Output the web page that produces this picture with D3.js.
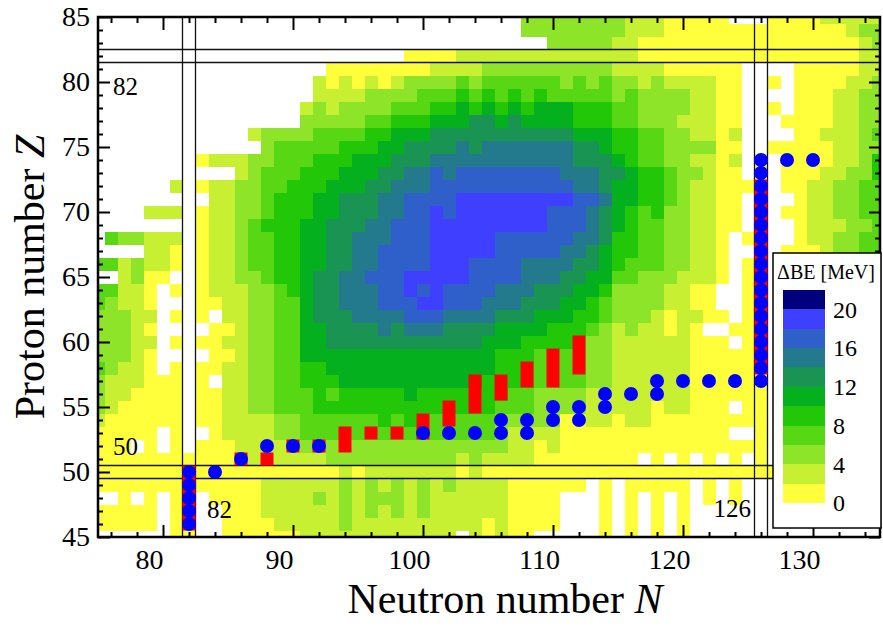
<!DOCTYPE html>
<html>
<head>
<meta charset="utf-8">
<script src="https://cdn.jsdelivr.net/npm/d3@7"></script>
<style>
  body { margin: 0; background: #fff; }
  svg text { font-family: "Liberation Serif", "DejaVu Serif", serif !important; fill: #000; }
</style>
</head>
<body>
<svg id="chart" width="883" height="626"></svg>
<script>
// ---- data ----
// one string per proton number Z (85 at top, 45 at bottom), one char per N = 75..135
// char = colour band (0 -> 0-2 MeV, 1 -> 2-4 MeV, ... a -> 20-22 MeV), "." = no value
var zRows = [
  "................" + "..............." + "..2222222211100" + "000...000011111",
  "................" + "..............." + "..2222222211100" + "000000000000122",
  "................" + "..............." + "....22222110000" + "000000000000012",
  "................" + "........0000111" + "111111111110000" + "000000000000011",
  "................" + "..0000000011112" + "222222222111100" + "0000....0000011",
  "................" + ".10101012222323" + "333332323221211" + "1100..0.0000112",
  "................" + ".11112222333434" + "343433333232222" + "1100....0001122",
  "................" + "121222233344545" + "454555444332222" + "1100..0.0001122",
  "................" + "222223344455566" + "565555444332221" + "1100...00001122",
  "............1222" + "233334455566666" + "666666555443322" + "1101....0011123",
  ".............233" + "333444556666767" + "777777665443322" + "2200..000001122",
  "........01112233" + "344455566677777" + "777777666543322" + "1101.0.00001124",
  "...........12333" + "444555667787888" + "888887776654432" + "2100.0.00011224",
  "......1.01122334" + "445556677788888" + "888888776554432" + "110000.00112233",
  ".........1122344" + "455666778888999" + "999999887554432" + "1100.0..0112233",
  "....111.01122344" + "455666778898999" + "999988876543422" + "1100.0.00112233",
  "........01123444" + "556667788899999" + "999988876543322" + "1100.0..0111223",
  ".322111.01123344" + "556677788899999" + "888888776443322" + "110.00..0112233",
  "....110.01123344" + "556677888899999" + "888887765443322" + "110..0.00012233",
  "3312110.01123344" + "556677888899988" + "887777665433322" + "110.00.........",
  "..1200..01122344" + "566778889999988" + "887776655332221" + "110.00.........",
  "33110.0.01112234" + "566777889898888" + "777666554222211" + "00..00.........",
  "32110...00112233" + "566777888998887" + "776665543222211" + "00..00.........",
  "22211.0.0.112233" + "566677778887777" + "666555443222101" + "100.00.........",
  "22210....0012233" + "556666767776666" + "555544432121101" + "0..000.........",
  "22211.0.00112233" + "556666666666665" + "554444322111111" + "000.00.........",
  "22210....0012233" + "555555555555555" + "444333322111111" + "000000.........",
  "32110.0.00112233" + "445555555555555" + "444333322111111" + "000000.........",
  "2111000.0.112233" + "444555555555554" + "444333322111111" + "000000.........",
  "2110000.00112233" + "343444445444444" + "433222211111111" + "000000.........",
  "2100000.00112233" + "344444444444444" + "333222211111011" + "000.00.........",
  "1000000.00111122" + "333333434333333" + "222220011011000" + "000000.........",
  "00000.0..0111122" + "333333333333333" + "211110000000000" + "000..0.........",
  "000.0.0.00011111" + "222222222222222" + "211010000000000" + "000000.........",
  "0000000000011111" + "112222222222121" + "11100000000.0.0" + ".0.0.0.........",
  "0000000000000000" + "000101111111010" + "000000000000000" + "0000000........",
  "0000000000000111" + "111212121212111" + "1000000.0.00000" + ".0.0...........",
  "..0.0.00.0000111" + "121212221211111" + "10000...0.0.0.0" + ".0.0...........",
  "00000.00..000111" + "111212121211111" + "10000...0.0.0.0" + "...............",
  "00000.00..000011" + "111211111111110" + "10000...0.0.0.0" + "...............",
  "......00..000000" + "111111111111.10" + "100.....0.0.0.0" + "..............."
];
var zTop = 85;
var nFirst = 75;

var bandEdges = [2, 4, 6, 8, 10, 12, 14, 16, 18, 20];
var bandColors = ["#ffff3c", "#c8f032", "#8ee428", "#58d814", "#22c808", "#04b01e",
                  "#1a9452", "#237a8c", "#2f5fc8", "#3f3fff", "#00007f"];
var legendTicks = [0, 4, 8, 12, 16, 20];

// red bars: N, lowest Z, highest Z
var redN   = [82, 86, 88, 90, 92, 94, 96, 98, 100, 102, 104, 106, 108, 110, 112, 126];
var redZlo = [46, 51, 51, 52, 52, 52, 53, 53, 53, 54, 55, 56, 57, 57, 58, 58];
var redZhi = [50, 51, 51, 52, 52, 53, 53, 53, 54, 55, 57, 57, 58, 59, 60, 72];

// blue points [N, Z]
var bluePts = [
  [82, 46], [82, 47], [82, 48], [82, 49], [82, 50], [84, 50], [86, 51], [88, 52], [90, 52], [92, 52],
  [100, 53], [102, 53], [104, 53], [106, 53], [106, 54], [108, 53], [108, 54], [110, 54], [110, 55],
  [112, 54], [112, 55], [114, 55], [114, 56], [116, 56], [118, 56], [118, 57], [120, 57], [122, 57], [124, 57],
  [126, 57], [126, 58], [126, 59], [126, 60], [126, 61], [126, 62], [126, 63], [126, 64], [126, 65],
  [126, 66], [126, 67], [126, 68], [126, 69], [126, 70], [126, 71], [126, 72], [126, 73], [126, 74],
  [128, 74], [130, 74]
];

var magicN = [82, 126];
var magicZ = [50, 82];
var xMajor = [80, 90, 100, 110, 120, 130];
var yMajor = [45, 50, 55, 60, 65, 70, 75, 80, 85];

// ---- layout ----
var svg = d3.select("#chart");
var pLeft = 98, pRight = 880, pTop = 17, pBottom = 537;
var serif = "'Liberation Serif', 'DejaVu Serif', serif";

var x = d3.scaleLinear().domain([75, 135]).range([98, 878]);
var y = d3.scaleLinear().domain([45, 85]).range([537, 17]);
var color = d3.scaleThreshold().domain(bandEdges).range(bandColors);

svg.append("defs").append("clipPath").attr("id", "plotclip")
  .append("rect").attr("x", pLeft).attr("y", pTop)
  .attr("width", pRight - pLeft).attr("height", pBottom - pTop);

var plot = svg.append("g").attr("clip-path", "url(#plotclip)");

// cells
var cells = [];
zRows.forEach(function(row, i) {
  var z = zTop - i;
  row.split("").forEach(function(c, j) {
    if (c === ".") return;
    cells.push({ n: nFirst + j, z: z, v: 2 * parseInt(c, 16) + 1 });
  });
});

plot.append("g")
  .selectAll("rect")
  .data(cells)
  .enter().append("rect")
  .attr("x", function(d) { return x(d.n - 0.5); })
  .attr("y", function(d) { return y(d.z + 0.5); })
  .attr("width", function(d) { return x(d.n + 0.5) - x(d.n - 0.5); })
  .attr("height", function(d) { return y(d.z - 0.5) - y(d.z + 0.5); })
  .attr("fill", function(d) { return color(d.v); })
  .attr("shape-rendering", "crispEdges");

// magic number lines
var lines = plot.append("g").attr("stroke", "#111").attr("stroke-width", 1.3);
magicN.forEach(function(n) {
  [n - 0.5, n + 0.5].forEach(function(v) {
    lines.append("line").attr("x1", x(v)).attr("x2", x(v)).attr("y1", pTop).attr("y2", pBottom);
  });
});
magicZ.forEach(function(z) {
  [z - 0.5, z + 0.5].forEach(function(v) {
    lines.append("line").attr("x1", pLeft).attr("x2", pRight).attr("y1", y(v)).attr("y2", y(v));
  });
});

// red bars
plot.append("g")
  .selectAll("rect")
  .data(redN)
  .enter().append("rect")
  .attr("x", function(d) { return x(d - 0.5); })
  .attr("y", function(d, i) { return y(redZhi[i] + 0.5); })
  .attr("width", function(d) { return x(d + 0.5) - x(d - 0.5); })
  .attr("height", function(d, i) { return y(redZlo[i] - 0.5) - y(redZhi[i] + 0.5); })
  .attr("fill", "#ff0000");

// blue points
plot.append("g")
  .selectAll("circle")
  .data(bluePts)
  .enter().append("circle")
  .attr("cx", function(d) { return x(d[0]); })
  .attr("cy", function(d) { return y(d[1]); })
  .attr("r", 7)
  .attr("fill", "#0000ff");

// magic labels
function label(px, py, s, anchor) {
  svg.append("text").attr("x", px).attr("y", py)
    .attr("text-anchor", anchor || "start")
    .style("font-family", serif).style("font-size", "25px").text(s);
}
label(113, 95, "82");
label(113, 455, "50");
label(207, 518, "82");
label(751, 517, "126", "end");

// frame ticks
function styleAxis(g) {
  g.attr("font-family", null);
  g.select(".domain").remove();
  g.selectAll("line").attr("stroke", "#000").attr("stroke-width", 2);
}
var xMinor = d3.range(76, 136, 2).filter(function(v) { return xMajor.indexOf(v) < 0; });
var yMinor = d3.range(45, 86, 1).filter(function(v) { return yMajor.indexOf(v) < 0; });

svg.append("g").attr("transform", "translate(0," + pBottom + ")")
  .call(d3.axisBottom(x).tickValues(xMinor).tickSize(-5).tickFormat("")).call(styleAxis);
svg.append("g").attr("transform", "translate(0," + pTop + ")")
  .call(d3.axisTop(x).tickValues(xMinor).tickSize(-6).tickFormat("")).call(styleAxis);
svg.append("g").attr("transform", "translate(0," + pTop + ")")
  .call(d3.axisTop(x).tickValues(xMajor).tickSize(-13).tickFormat("")).call(styleAxis);
svg.append("g").attr("transform", "translate(" + pLeft + ",0)")
  .call(d3.axisLeft(y).tickValues(yMinor).tickSize(-5).tickFormat("")).call(styleAxis);
svg.append("g").attr("transform", "translate(" + pRight + ",0)")
  .call(d3.axisRight(y).tickValues(yMinor).tickSize(-5).tickFormat("")).call(styleAxis);
svg.append("g").attr("transform", "translate(" + pRight + ",0)")
  .call(d3.axisRight(y).tickValues(yMajor).tickSize(-11).tickFormat("")).call(styleAxis);

var xAxis = svg.append("g").attr("transform", "translate(0," + pBottom + ")")
  .call(d3.axisBottom(x).tickValues(xMajor).tickSize(-12).tickPadding(12)).call(styleAxis);
xAxis.selectAll("text").attr("dx", -14)
  .style("font-family", serif).style("font-size", "28px");

var yAxis = svg.append("g").attr("transform", "translate(" + pLeft + ",0)")
  .call(d3.axisLeft(y).tickValues(yMajor).tickSize(-12).tickPadding(8)).call(styleAxis);
yAxis.selectAll("text").style("font-family", serif).style("font-size", "28px");

svg.append("rect").attr("x", pLeft).attr("y", pTop)
  .attr("width", pRight - pLeft).attr("height", pBottom - pTop)
  .attr("fill", "none").attr("stroke", "#000").attr("stroke-width", 2.5);

// axis titles
var xt = svg.append("text").attr("x", 505).attr("y", 613)
  .attr("text-anchor", "middle").style("font-family", serif).style("font-size", "42px");
xt.append("tspan").text("Neutron number ");
xt.append("tspan").attr("font-style", "italic").text("N");

var yt = svg.append("text")
  .attr("transform", "translate(44," + ((pTop + pBottom) / 2) + ") rotate(-90)")
  .attr("text-anchor", "middle").style("font-family", serif).style("font-size", "42px");
yt.append("tspan").text("Proton number ");
yt.append("tspan").attr("font-style", "italic").text("Z");

// legend
var lg = svg.append("g");
lg.append("rect").attr("x", 773).attr("y", 253).attr("width", 108).attr("height", 275)
  .attr("fill", "#fff").attr("stroke", "#000").attr("stroke-width", 1.5);
lg.append("text").attr("x", 826).attr("y", 279).attr("text-anchor", "middle")
  .style("font-family", serif).style("font-size", "20px").text("\u0394BE [MeV]");

var yL = d3.scaleLinear().domain([0, 22]).range([503, 290]);
lg.selectAll("rect.sw")
  .data(bandColors)
  .enter().append("rect").attr("class", "sw")
  .attr("x", 783).attr("width", 42)
  .attr("y", function(d, i) { return yL(2 * i + 2); })
  .attr("height", function(d, i) { return yL(2 * i) - yL(2 * i + 2); })
  .attr("fill", function(d) { return d; })
  .attr("shape-rendering", "crispEdges");
lg.selectAll("text.lb")
  .data(legendTicks)
  .enter().append("text").attr("class", "lb")
  .attr("x", 833).attr("y", function(d) { return yL(d); }).attr("dy", "0.35em")
  .style("font-family", serif).style("font-size", "24px").text(function(d) { return d; });
</script>
</body>
</html>
